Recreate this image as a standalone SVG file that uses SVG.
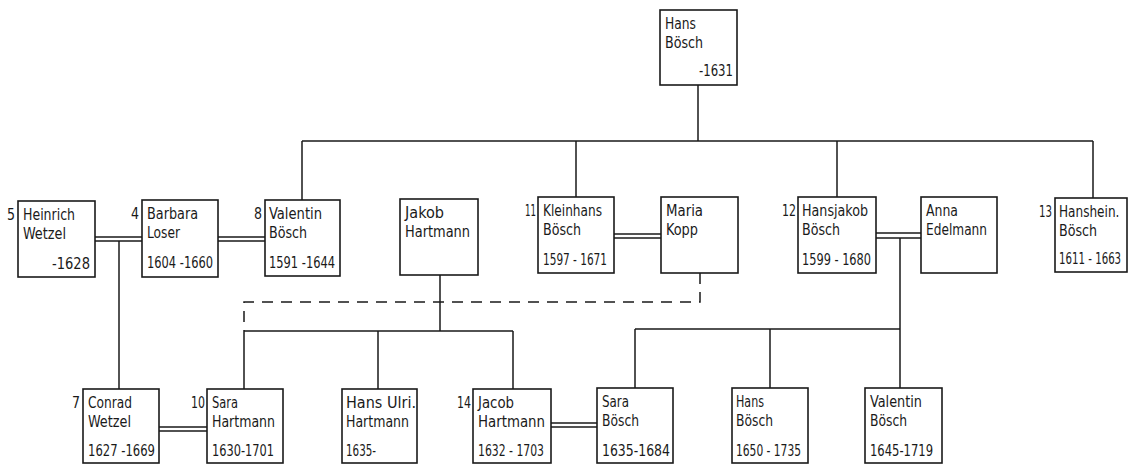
<svg xmlns="http://www.w3.org/2000/svg" width="1128" height="464" viewBox="0 0 1128 464">
<style>
.bg{fill:#fff}
.box{fill:#fff;stroke:#1a1a1a;stroke-width:1.6}
.ln{fill:none;stroke:#1a1a1a;stroke-width:1.5}
.dash{fill:none;stroke:#1a1a1a;stroke-width:1.5;stroke-dasharray:11 8}
text{font-family:"DejaVu Sans Condensed","Liberation Sans",sans-serif;font-size:16px;fill:#1a1a1a}
.num{text-anchor:end}
.r{text-anchor:end}
</style>
<rect class="bg" x="0" y="0" width="1128" height="464"/>
<g id="connectors">
  <path class="ln" d="M698 85V141M302 141H1093M302 141V200M576 141V197M837 141V197M1093 141V198"/>
  <path class="ln" d="M95 237H142M95 241H142M218 237H265M218 241H265M614 234H661M614 238H661M876 233H921M876 238H921M159 427H207M159 431H207M551 423H597M551 427H597"/>
  <path class="ln" d="M119 241V389"/>
  <path class="ln" d="M440 275V331M244 331H513M244 331V389M378 331V389M513 331V389"/>
  <path class="dash" d="M700 273V302H244V331"/>
  <path class="ln" d="M900 238V388M635 329H900M635 329V388M770 329V388"/>
</g>
<g id="hans-boesch-top">
  <rect class="box" x="660" y="10" width="77" height="75"/>
  <text x="665" y="29" textLength="31" lengthAdjust="spacingAndGlyphs">Hans</text><text x="665" y="48" textLength="38" lengthAdjust="spacingAndGlyphs">Bösch</text><text class="r" x="733" y="76" textLength="34" lengthAdjust="spacingAndGlyphs">-1631</text>
</g>
<g id="heinrich-wetzel">
  <rect class="box" x="18" y="201" width="77" height="76"/>
  <text class="num" x="15" y="220" textLength="8" lengthAdjust="spacingAndGlyphs">5</text>
  <text x="23" y="220" textLength="52" lengthAdjust="spacingAndGlyphs">Heinrich</text><text x="23" y="239" textLength="43" lengthAdjust="spacingAndGlyphs">Wetzel</text><text class="r" x="90" y="269" textLength="38" lengthAdjust="spacingAndGlyphs">-1628</text>
</g>
<g id="barbara-loser">
  <rect class="box" x="142" y="200" width="76" height="77"/>
  <text class="num" x="139" y="219" textLength="8" lengthAdjust="spacingAndGlyphs">4</text>
  <text x="147" y="219" textLength="51" lengthAdjust="spacingAndGlyphs">Barbara</text><text x="147" y="238" textLength="33" lengthAdjust="spacingAndGlyphs">Loser</text><text x="147" y="268" textLength="66" lengthAdjust="spacingAndGlyphs">1604 -1660</text>
</g>
<g id="valentin-boesch">
  <rect class="box" x="265" y="200" width="75" height="76"/>
  <text class="num" x="262" y="219" textLength="8" lengthAdjust="spacingAndGlyphs">8</text>
  <text x="269" y="219" textLength="53" lengthAdjust="spacingAndGlyphs">Valentin</text><text x="269" y="238" textLength="38" lengthAdjust="spacingAndGlyphs">Bösch</text><text x="269" y="268" textLength="66" lengthAdjust="spacingAndGlyphs">1591 -1644</text>
</g>
<g id="jakob-hartmann">
  <rect class="box" x="400" y="199" width="78" height="76"/>
  <text x="405" y="218" textLength="39" lengthAdjust="spacingAndGlyphs">Jakob</text><text x="405" y="237" textLength="65" lengthAdjust="spacingAndGlyphs">Hartmann</text>
</g>
<g id="kleinhans-boesch">
  <rect class="box" x="538" y="197" width="76" height="76"/>
  <text class="num" x="536" y="216" textLength="11" lengthAdjust="spacingAndGlyphs">11</text>
  <text x="543" y="216" textLength="59" lengthAdjust="spacingAndGlyphs">Kleinhans</text><text x="543" y="235" textLength="38" lengthAdjust="spacingAndGlyphs">Bösch</text><text x="543" y="265" textLength="64" lengthAdjust="spacingAndGlyphs">1597 - 1671</text>
</g>
<g id="maria-kopp">
  <rect class="box" x="661" y="197" width="77" height="76"/>
  <text x="666" y="216" textLength="37" lengthAdjust="spacingAndGlyphs">Maria</text><text x="666" y="235" textLength="32" lengthAdjust="spacingAndGlyphs">Kopp</text>
</g>
<g id="hansjakob-boesch">
  <rect class="box" x="798" y="197" width="78" height="76"/>
  <text class="num" x="796" y="216" textLength="14" lengthAdjust="spacingAndGlyphs">12</text>
  <text x="802" y="216" textLength="66" lengthAdjust="spacingAndGlyphs">Hansjakob</text><text x="802" y="235" textLength="38" lengthAdjust="spacingAndGlyphs">Bösch</text><text x="802" y="265" textLength="69" lengthAdjust="spacingAndGlyphs">1599 - 1680</text>
</g>
<g id="anna-edelmann">
  <rect class="box" x="921" y="197" width="76" height="76"/>
  <text x="926" y="216" textLength="32" lengthAdjust="spacingAndGlyphs">Anna</text><text x="926" y="235" textLength="61" lengthAdjust="spacingAndGlyphs">Edelmann</text>
</g>
<g id="hanshein-boesch">
  <rect class="box" x="1055" y="198" width="72" height="74"/>
  <text class="num" x="1052" y="217" textLength="13" lengthAdjust="spacingAndGlyphs">13</text>
  <text transform="translate(1059 217) scale(0.84 1)">Hanshein.</text><text x="1059" y="236" textLength="38" lengthAdjust="spacingAndGlyphs">Bösch</text><text transform="translate(1059 264) scale(0.71 1)">1611 - 1663</text>
</g>
<g id="conrad-wetzel">
  <rect class="box" x="83" y="389" width="76" height="74"/>
  <text class="num" x="80" y="408" textLength="8" lengthAdjust="spacingAndGlyphs">7</text>
  <text x="88" y="408" textLength="44" lengthAdjust="spacingAndGlyphs">Conrad</text><text x="88" y="427" textLength="43" lengthAdjust="spacingAndGlyphs">Wetzel</text><text x="88" y="456" textLength="67" lengthAdjust="spacingAndGlyphs">1627 -1669</text>
</g>
<g id="sara-hartmann">
  <rect class="box" x="207" y="389" width="76" height="74"/>
  <text class="num" x="205" y="408" textLength="14" lengthAdjust="spacingAndGlyphs">10</text>
  <text x="212" y="408" textLength="26" lengthAdjust="spacingAndGlyphs">Sara</text><text x="212" y="427" textLength="63" lengthAdjust="spacingAndGlyphs">Hartmann</text><text x="212" y="456" textLength="62" lengthAdjust="spacingAndGlyphs">1630-1701</text>
</g>
<g id="hans-ulri-hartmann">
  <rect class="box" x="342" y="389" width="75" height="74"/>
  <text x="346" y="408" textLength="70" lengthAdjust="spacingAndGlyphs">Hans Ulri.</text><text x="346" y="427" textLength="63" lengthAdjust="spacingAndGlyphs">Hartmann</text><text x="346" y="456" textLength="30" lengthAdjust="spacingAndGlyphs">1635-</text>
</g>
<g id="jacob-hartmann">
  <rect class="box" x="473" y="389" width="78" height="74"/>
  <text class="num" x="471" y="408" textLength="14" lengthAdjust="spacingAndGlyphs">14</text>
  <text x="478" y="408" textLength="36" lengthAdjust="spacingAndGlyphs">Jacob</text><text x="478" y="427" textLength="67" lengthAdjust="spacingAndGlyphs">Hartmann</text><text x="478" y="456" textLength="66" lengthAdjust="spacingAndGlyphs">1632 - 1703</text>
</g>
<g id="sara-boesch">
  <rect class="box" x="597" y="388" width="76" height="75"/>
  <text x="602" y="407" textLength="27" lengthAdjust="spacingAndGlyphs">Sara</text><text x="602" y="426" textLength="37" lengthAdjust="spacingAndGlyphs">Bösch</text><text x="602" y="456" textLength="68" lengthAdjust="spacingAndGlyphs">1635-1684</text>
</g>
<g id="hans-boesch">
  <rect class="box" x="732" y="388" width="76" height="75"/>
  <text x="736" y="407" textLength="28" lengthAdjust="spacingAndGlyphs">Hans</text><text x="736" y="426" textLength="37" lengthAdjust="spacingAndGlyphs">Bösch</text><text x="736" y="456" textLength="65" lengthAdjust="spacingAndGlyphs">1650 - 1735</text>
</g>
<g id="valentin-boesch-jr">
  <rect class="box" x="865" y="388" width="77" height="75"/>
  <text x="870" y="407" textLength="52" lengthAdjust="spacingAndGlyphs">Valentin</text><text x="870" y="426" textLength="37" lengthAdjust="spacingAndGlyphs">Bösch</text><text x="870" y="456" textLength="63" lengthAdjust="spacingAndGlyphs">1645-1719</text>
</g>
</svg>
